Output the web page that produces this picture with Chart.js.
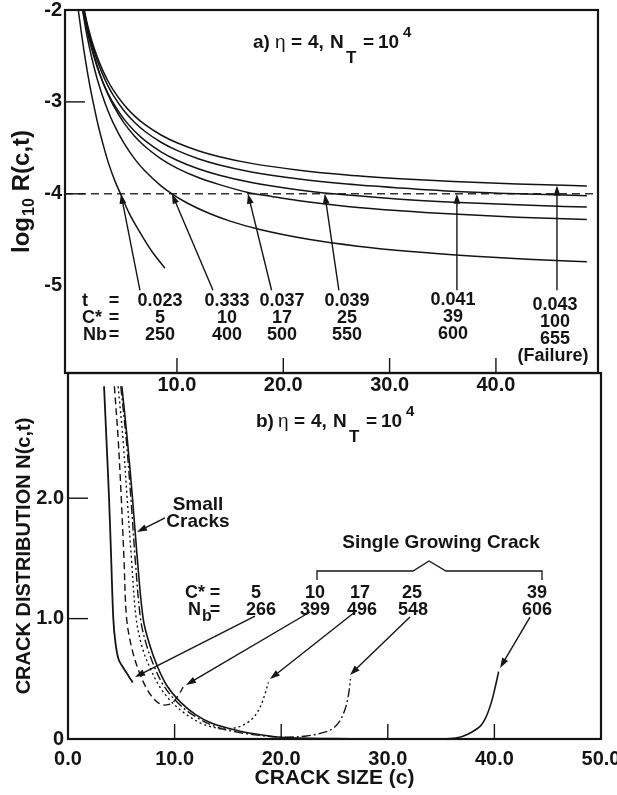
<!DOCTYPE html>
<html><head><meta charset="utf-8">
<script src="https://cdn.jsdelivr.net/npm/chart.js@4.4.0/dist/chart.umd.min.js"></script>
<style>
html,body{margin:0;padding:0;background:#fff;}
#wrap{position:relative;width:617px;height:795px;overflow:hidden;background:#fff;}
#c1{position:absolute;left:0;top:0;}
#c2{position:absolute;left:0;top:360px;}
</style></head><body>
<div id="wrap"><canvas id="c1" width="617" height="400"></canvas><canvas id="c2" width="617" height="435"></canvas></div>
<script>
// ---------- data: panel a) log10 R(c,t) vs crack size ----------
const xTicksTop = [10, 20, 30, 40];
const yTicksTop = [-2, -3, -4, -5];
const criticalLevel = -4;
const topCStar = ['5', '10', '17', '25', '39', '100'];
const topTime = ['0.023', '0.333', '0.037', '0.039', '0.041', '0.043'];
const topNb = ['250', '400', '500', '550', '600', '655'];
const topR5 = [[0.72,-2.0],[1.0,-2.24],[1.4,-2.55],[1.8,-2.82],[2.13,-3.01],[2.6,-3.26],[3.07,-3.47],[3.6,-3.68],[4.2,-3.87],[4.73,-4.01],[5.5,-4.21],[6.52,-4.42],[7.6,-4.62],[8.87,-4.81]];
const topR10 = [[1.12,-2.0],[1.5,-2.256],[2,-2.528],[2.5,-2.751],[3,-2.936],[3.5,-3.093],[4,-3.228],[5,-3.447],[6,-3.617],[7,-3.753],[8.5,-3.913],[9.53,-4.0],[11,-4.103],[13,-4.212],[15,-4.297],[17.8,-4.389],[22.5,-4.498],[27,-4.57],[32,-4.628],[38,-4.679],[43,-4.712],[48.55,-4.74]];
const topR17 = [[1.27,-2.0],[1.6,-2.201],[2,-2.402],[2.5,-2.608],[3,-2.777],[3.5,-2.917],[4,-3.036],[5,-3.226],[6,-3.371],[7,-3.486],[8.5,-3.619],[10,-3.72],[12,-3.823],[14,-3.9],[16.68,-3.985],[19,-4.031],[21.5,-4.076],[26,-4.137],[31,-4.185],[36,-4.221],[42,-4.254],[48.55,-4.28]];
const topR25 = [[1.15,-2.0],[1.6,-2.251],[2,-2.434],[2.5,-2.622],[3,-2.775],[3.5,-2.903],[4,-3.012],[5,-3.185],[6,-3.317],[7,-3.422],[8.5,-3.543],[10,-3.635],[12,-3.728],[14,-3.798],[17,-3.877],[21.5,-3.958],[24.7,-4.0],[31,-4.058],[36,-4.091],[42,-4.12],[48.55,-4.145]];
const topR39 = [[1.22,-2.0],[1.6,-2.192],[2,-2.369],[2.5,-2.55],[3,-2.698],[3.5,-2.822],[4,-2.926],[5,-3.093],[6,-3.221],[7,-3.322],[8.5,-3.439],[10,-3.528],[12,-3.618],[14,-3.686],[17,-3.762],[21.5,-3.84],[26,-3.894],[31,-3.937],[36.33,-3.975],[42,-4.0],[48.55,-4.02]];
const topR100 = [[1.27,-2.0],[1.6,-2.168],[2,-2.337],[2.5,-2.51],[3,-2.652],[3.5,-2.77],[4,-2.87],[5,-3.029],[6,-3.152],[7,-3.248],[8.5,-3.36],[10,-3.445],[12,-3.531],[14,-3.596],[17,-3.669],[21.5,-3.743],[26,-3.795],[31,-3.835],[36,-3.866],[42,-3.893],[48.55,-3.915]];

// ---------- data: panel b) crack distribution N(c,t) ----------
const xTicksBottom = [0, 10, 20, 30, 40, 50];
const yTicksBottom = [0, 1, 2];
const botCStar = ['5', '10', '17', '25', '39'];
const botNb = ['266', '399', '496', '548', '606'];
const botN5 = [[3.38,2.93],[3.6,2.5],[3.85,2.0],[4.05,1.5],[4.25,1.0],[4.45,0.8],[4.75,0.66],[5.2,0.59],[5.7,0.52],[6.07,0.47]];
const botN10 = [[4.35,2.93],[4.7,2.5],[5.0,2.0],[5.25,1.5],[5.5,1.0],[6.0,0.75],[6.7,0.55],[7.5,0.4],[8.2,0.32],[8.8,0.285],[9.4,0.285],[9.9,0.31],[10.4,0.37],[10.8,0.43]];
const botN17 = [[4.7,2.93],[5.15,2.5],[5.55,2.0],[5.95,1.5],[6.4,1.0],[7.0,0.75],[7.8,0.57],[8.7,0.42],[9.7,0.31],[11,0.21],[12.5,0.13],[14,0.09],[15,0.085],[16,0.1],[16.9,0.14],[17.6,0.2],[18.1,0.28],[18.5,0.38],[18.8,0.47]];
const botN25 = [[4.95,2.93],[5.45,2.5],[5.9,2.0],[6.3,1.5],[6.8,1.0],[7.3,0.8],[8.1,0.6],[9.0,0.44],[10.2,0.31],[11.7,0.2],[13.9,0.1],[16,0.055],[18,0.03],[20.2,0.015],[22.4,0.025],[24.0,0.055],[24.9,0.09],[25.5,0.15],[26.0,0.25],[26.3,0.36],[26.5,0.5]];
const botN39 = [[5.05,2.93],[5.55,2.5],[6.05,2.0],[6.5,1.5],[7.05,1.0],[7.6,0.8],[8.4,0.6],[9.3,0.44],[10.5,0.31],[12,0.2],[13.5,0.13],[15,0.09],[17,0.05],[20,0.015],[25,0.003],[30,0.0],[35,0.0],[36.5,0.01],[37.5,0.04],[38.6,0.1],[39.2,0.18],[39.7,0.3],[40.1,0.44],[40.4,0.56]];

// ---------- annotation anchors (data units) ----------
const annotTop = {
  tips:  [[4.73,-4],[9.53,-4],[16.68,-4],[23.9,-4],[36.33,-4],[45.74,-3.91]],
  tails: [[6.52,-5.05],[13.39,-5.05],[18.9,-5.05],[25.23,-5.05],[36.33,-5.05],[45.74,-5.05]]
};
const annotBot = {
  tips:  [[6.29,0.515],[11.07,0.449],[18.95,0.498],[26.45,0.532],[40.53,0.59]],
  tails: [[17.54,1.02],[22.7,1.055],[26.92,1.055],[32.08,1.013],[43.34,1.013]],
  small: [[9.1,1.836],[6.47,1.72]]
};

const INK = '#141414';
const FONT = '"Liberation Sans", Arial, Helvetica, sans-serif';
const pts = a => a.map(p => ({x: p[0], y: p[1]}));

function put(ctx, s, x, y, size, weight, align) {
  ctx.font = (weight || 'bold') + ' ' + size + 'px ' + FONT;
  ctx.textAlign = align || 'center';
  ctx.textBaseline = 'alphabetic';
  ctx.fillStyle = INK;
  ctx.fillText(s, x, y);
  return ctx.measureText(s).width;
}
function arrow(ctx, x1, y1, x2, y2) {
  const a = Math.atan2(y2 - y1, x2 - x1), L = 10, W = 3.4;
  ctx.strokeStyle = INK; ctx.fillStyle = INK; ctx.lineWidth = 1.4; ctx.setLineDash([]);
  ctx.beginPath(); ctx.moveTo(x1, y1); ctx.lineTo(x2 - 0.7 * L * Math.cos(a), y2 - 0.7 * L * Math.sin(a)); ctx.stroke();
  ctx.beginPath(); ctx.moveTo(x2, y2);
  ctx.lineTo(x2 - L * Math.cos(a) + W * Math.sin(a), y2 - L * Math.sin(a) - W * Math.cos(a));
  ctx.lineTo(x2 - L * Math.cos(a) - W * Math.sin(a), y2 - L * Math.sin(a) + W * Math.cos(a));
  ctx.closePath(); ctx.fill();
}
function frameAndTicks(chart, xT, yT, lenX, lenY) {
  const {ctx, chartArea: a, scales: {x, y}} = chart;
  ctx.save();
  ctx.strokeStyle = INK; ctx.lineWidth = 2.2; ctx.setLineDash([]);
  ctx.strokeRect(a.left, a.top, a.right - a.left, a.bottom - a.top);
  ctx.lineWidth = 1.4;
  xT.forEach(v => { const p = x.getPixelForValue(v); ctx.beginPath(); ctx.moveTo(p, a.bottom); ctx.lineTo(p, a.bottom - lenX); ctx.stroke(); });
  yT.forEach(v => { const p = y.getPixelForValue(v); ctx.beginPath(); ctx.moveTo(a.left, p); ctx.lineTo(a.left + lenY, p); ctx.stroke(); });
  ctx.restore();
}
function titleRun(ctx, letter, dx, dy) {
  const b = 48 + dy, sub = 63 + dy, sup = 37 + dy;
  put(ctx, letter, 253 + dx, b, 19, 'bold', 'left');
  put(ctx, 'η', 275 + dx, b, 19, 'normal', 'left');
  put(ctx, '=', 291 + dx, b, 19, 'bold', 'left');
  put(ctx, '4,', 308 + dx, b, 19, 'bold', 'left');
  put(ctx, 'N', 330 + dx, b, 19, 'bold', 'left');
  put(ctx, 'T', 346 + dx, sub, 17, 'bold', 'left');
  put(ctx, '=', 363 + dx, b, 19, 'bold', 'left');
  put(ctx, '10', 378 + dx, b, 19, 'bold', 'left');
  put(ctx, '4', 403 + dx, sup, 15, 'bold', 'left');
}
function curve(data, opts) {
  return Object.assign({data: pts(data), showLine: true, pointRadius: 0, borderColor: INK, borderWidth: 1.5, tension: 0.35, fill: false}, opts || {});
}
const tickFont = {family: FONT, size: 20, weight: 'bold'};

// ---------- panel a ----------
const topPlugin = {
  id: 'topDeco',
  afterDatasetsDraw(chart) {
    const {ctx, scales: {x, y}} = chart;
    frameAndTicks(chart, xTicksTop, [-3, -4], 15, 20);
    ctx.save();
    annotTop.tips.forEach((t, i) => {
      const s = annotTop.tails[i];
      arrow(ctx, x.getPixelForValue(s[0]), y.getPixelForValue(s[1]), x.getPixelForValue(t[0]), y.getPixelForValue(t[1]));
    });
    titleRun(ctx, 'a)', 0, 0);
    const cols = [160, 227, 282, 347, 453, 555];
    put(ctx, 't', 82, 306, 18, 'bold', 'left');
    put(ctx, '=', 114, 306, 18);
    put(ctx, 'C*', 82, 323, 18, 'bold', 'left');
    put(ctx, '=', 114, 323, 18);
    put(ctx, 'Nb', 83, 340, 18, 'bold', 'left');
    put(ctx, '=', 114, 340, 18);
    cols.forEach((cx, i) => {
      const off = i === 5 ? 4 : (i === 4 ? -1 : 0);
      put(ctx, topTime[i], cx, 306 + off, 18);
      put(ctx, topCStar[i], cx, 323 + off, 18);
      put(ctx, topNb[i], cx, 340 + off, 18);
    });
    put(ctx, '(Failure)', 553, 361, 18);
    // y title  log10 R(c,t)
    ctx.translate(29, 0);
    ctx.rotate(-Math.PI / 2);
    let u = -253;
    u += put(ctx, 'log', u, 0, 24, 'bold', 'left') + 1;
    u += put(ctx, '10', u, 5, 16, 'bold', 'left') + 7;
    put(ctx, 'R(c,t)', u, 0, 24, 'bold', 'left');
    ctx.restore();
  }
};
new Chart(document.getElementById('c1'), {
  type: 'scatter',
  data: {datasets: [
    curve(topR5, {label: 'C* = 5'}),
    curve(topR10, {label: 'C* = 10'}),
    curve(topR17, {label: 'C* = 17'}),
    curve(topR25, {label: 'C* = 25'}),
    curve(topR39, {label: 'C* = 39'}),
    curve(topR100, {label: 'C* = 100'}),
    curve([[-0.53, criticalLevel], [49.6, criticalLevel]], {label: 'log10 R = -4', tension: 0, borderDash: [8, 5], borderWidth: 1.4, borderColor: '#333'})
  ].map((d, i) => (i < 6 ? Object.assign(d, {cubicInterpolationMode: 'monotone'}) : d))},
  options: {
    responsive: false, animation: false, devicePixelRatio: 1,
    layout: {autoPadding: false, padding: {top: 10, right: 19, left: 0, bottom: 0}},
    plugins: {legend: {display: false}, tooltip: {enabled: false}},
    scales: {
      x: {type: 'linear', min: -0.53, max: 49.6,
        grid: {display: false, drawTicks: false}, border: {display: false},
        ticks: {font: tickFont, color: INK, padding: 0, autoSkip: false, maxRotation: 0, callback: v => Number(v).toFixed(1)},
        afterBuildTicks: s => { s.ticks = xTicksTop.map(v => ({value: v})); },
        afterFit: s => { s.height = 27; s.paddingLeft = 0; s.paddingRight = 0; }},
      y: {type: 'linear', min: -5.95, max: -2,
        grid: {display: false, drawTicks: false}, border: {display: false},
        ticks: {font: tickFont, color: INK, padding: 3, autoSkip: false, callback: v => String(v)},
        afterBuildTicks: s => { s.ticks = yTicksTop.map(v => ({value: v})); },
        afterFit: s => { s.width = 65; s.paddingTop = 0; s.paddingBottom = 0; }}
    }
  },
  plugins: [topPlugin]
});

// ---------- panel b ----------
const OY = 360; // canvas offset on page
const botPlugin = {
  id: 'botDeco',
  afterDatasetsDraw(chart) {
    const {ctx, scales: {x, y}} = chart;
    frameAndTicks(chart, [10, 20, 30, 40], [1, 2], 15, 20);
    ctx.save();
    annotBot.tips.forEach((t, i) => {
      const s = annotBot.tails[i];
      arrow(ctx, x.getPixelForValue(s[0]), y.getPixelForValue(s[1]), x.getPixelForValue(t[0]), y.getPixelForValue(t[1]));
    });
    const sc = annotBot.small;
    arrow(ctx, x.getPixelForValue(sc[0][0]), y.getPixelForValue(sc[0][1]), x.getPixelForValue(sc[1][0]), y.getPixelForValue(sc[1][1]));
    titleRun(ctx, 'b)', 3, 379 - OY);
    put(ctx, 'Small', 198, 510 - OY, 19);
    put(ctx, 'Cracks', 198, 527 - OY, 19);
    put(ctx, 'Single Growing Crack', 441, 548 - OY, 19);
    ctx.strokeStyle = INK; ctx.lineWidth = 1.3; ctx.setLineDash([]);
    ctx.beginPath();
    ctx.moveTo(317, 580 - OY); ctx.lineTo(317, 571 - OY); ctx.lineTo(413, 571 - OY); ctx.lineTo(429, 561 - OY);
    ctx.lineTo(446, 571 - OY); ctx.lineTo(542, 571 - OY); ctx.lineTo(542, 580 - OY);
    ctx.stroke();
    put(ctx, 'C*', 185, 598 - OY, 18, 'bold', 'left');
    put(ctx, '=', 215, 598 - OY, 18);
    put(ctx, 'N', 188, 615 - OY, 18, 'bold', 'left');
    put(ctx, 'b', 202, 621 - OY, 16, 'bold', 'left');
    put(ctx, '=', 215, 615 - OY, 18);
    const c1 = [256, 315, 360, 412, 537], c2 = [261, 315, 362, 413, 537];
    botCStar.forEach((s, i) => put(ctx, s, c1[i], 598 - OY, 18));
    botNb.forEach((s, i) => put(ctx, s, c2[i], 615 - OY, 18));
    ctx.restore();
  }
};
new Chart(document.getElementById('c2'), {
  type: 'scatter',
  data: {datasets: [
    curve(botN5, {label: 'C* = 5', borderWidth: 1.8}),
    curve(botN10, {label: 'C* = 10', borderDash: [7, 4], borderWidth: 1.4}),
    curve(botN17, {label: 'C* = 17', borderDash: [2, 3], borderWidth: 1.4}),
    curve(botN25, {label: 'C* = 25', borderDash: [9, 3, 2, 3], borderWidth: 1.4}),
    curve(botN39, {label: 'C* = 39', borderWidth: 1.6})
  ]},
  options: {
    responsive: false, animation: false, devicePixelRatio: 1,
    layout: {autoPadding: false, padding: {top: 13, right: 16, left: 0, bottom: 0}},
    plugins: {legend: {display: false}, tooltip: {enabled: false}},
    scales: {
      x: {type: 'linear', min: 0, max: 50,
        grid: {display: false, drawTicks: false}, border: {display: false},
        ticks: {font: tickFont, color: INK, padding: 8, autoSkip: false, maxRotation: 0, callback: v => Number(v).toFixed(1)},
        afterBuildTicks: s => { s.ticks = xTicksBottom.map(v => ({value: v})); },
        title: {display: true, text: 'CRACK SIZE (c)', color: INK, font: {family: FONT, size: 21, weight: 'bold'}, padding: {top: 0, bottom: 4}},
        afterFit: s => { s.height = 56; s.paddingLeft = 0; s.paddingRight = 0; }},
      y: {type: 'linear', min: 0, max: 3.04,
        grid: {display: false, drawTicks: false}, border: {display: false},
        ticks: {font: tickFont, color: INK, padding: 4, autoSkip: false, callback: v => (v === 0 ? '0' : Number(v).toFixed(1))},
        afterBuildTicks: s => { s.ticks = yTicksBottom.map(v => ({value: v})); },
        title: {display: true, text: 'CRACK DISTRIBUTION N(c,t)', color: INK, font: {family: FONT, size: 20, weight: 'bold'}, padding: {top: 12, bottom: 0}},
        afterFit: s => { s.width = 68; s.paddingTop = 0; s.paddingBottom = 0; }}
    }
  },
  plugins: [botPlugin]
});
</script>
</body></html>
